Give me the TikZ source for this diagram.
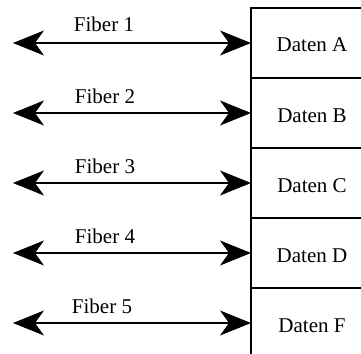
\documentclass[tikz,border=0pt]{standalone}
\usepackage{fontspec}
\setmainfont{Liberation Serif}
\usetikzlibrary{arrows.meta}

\tikzset{
  cell/.style={rectangle, minimum width=110pt, minimum height=70pt, inner sep=0pt, outer sep=0pt},
  boxline/.style={line width=1.2pt, black},
  fibtip/.tip={Stealth[length=31pt, width=25pt, inset=9pt]},
  fiberlink/.style={line width=1.1pt, black, fibtip-fibtip},
  lbl/.style={font=\fontsize{21}{24}\selectfont, inner sep=0pt, anchor=base},
}

\begin{document}
\begin{tikzpicture}[x=1pt, y=-1pt]
  \useasboundingbox (0,0) rectangle (361,353);
  \clip (0,0) rectangle (361,353);
  \fill[white] (0,0) rectangle (361,353);

  % cells of the data column
  \node[cell] (cellA) at (306,43) {};
  \node[cell] (cellB) at (306,113) {};
  \node[cell] (cellC) at (306,183) {};
  \node[cell] (cellD) at (306,253) {};
  \node[cell] (cellF) at (306,323) {};

  % column outline and separators
  \draw[boxline] (cellA.north east) -- (cellA.north west) -- (cellF.south west);
  \draw[boxline] (cellA.south west) -- (cellA.south east);
  \draw[boxline] (cellB.south west) -- (cellB.south east);
  \draw[boxline] (cellC.south west) -- (cellC.south east);
  \draw[boxline] (cellD.south west) -- (cellD.south east);

  % cell labels
  \node[lbl] (tA) at (312,52) {Daten A};
  \node[lbl] (tB) at (312,122) {Daten B};
  \node[lbl] (tC) at (312,192) {Daten C};
  \node[lbl] (tD) at (312,262) {Daten D};
  \node[lbl] (tF) at (312,332) {Daten F};

  % free ends of the fibers
  \coordinate (e1) at (13,43);
  \coordinate (e2) at (13,113);
  \coordinate (e3) at (13,183);
  \coordinate (e4) at (13,253);
  \coordinate (e5) at (13,323);

  % fibers
  \draw[fiberlink] (e1) -- (cellA.west);
  \draw[fiberlink] (e2) -- (cellB.west);
  \draw[fiberlink] (e3) -- (cellC.west);
  \draw[fiberlink] (e4) -- (cellD.west);
  \draw[fiberlink] (e5) -- (cellF.west);

  % fiber labels
  \node[lbl] (f1) at (104,32) {Fiber 1};
  \node[lbl] (f2) at (105,103) {Fiber 2};
  \node[lbl] (f3) at (105,173) {Fiber 3};
  \node[lbl] (f4) at (105,243) {Fiber 4};
  \node[lbl] (f5) at (102,313) {Fiber 5};
\end{tikzpicture}
\end{document}
